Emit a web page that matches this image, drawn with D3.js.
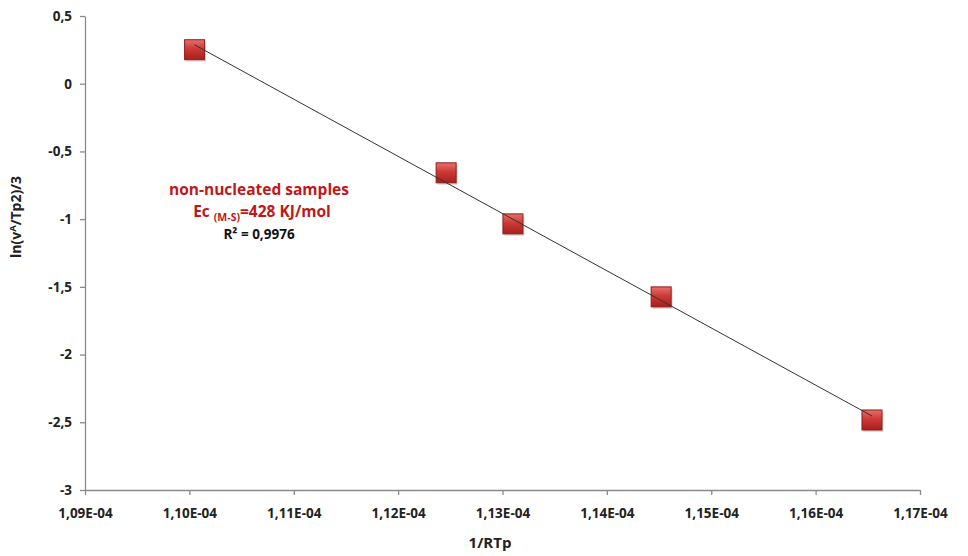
<!DOCTYPE html>
<html lang="en">
<head>
<meta charset="UTF-8">
<title>Kissinger plot</title>
<script src="https://cdn.jsdelivr.net/npm/d3@7"></script>
<style>
    body { margin: 0; padding: 0; background: #fff; }
    svg { display: block; font-family: "Open Sans", "Liberation Sans", sans-serif; }
</style>
</head>
<body>
<div id="chart"></div>
<script>
    // data
    const xValues = [1.1005e-4, 1.1246e-4, 1.1310e-4, 1.1452e-4, 1.1654e-4];
    const yValues = [0.251, -0.658, -1.035, -1.574, -2.483];
    const xTicks = [1.09e-4, 1.10e-4, 1.11e-4, 1.12e-4, 1.13e-4, 1.14e-4, 1.15e-4, 1.16e-4, 1.17e-4];
    const yTicks = [0.5, 0, -0.5, -1, -1.5, -2, -2.5, -3];

    const width = 968, height = 556;
    const margin = {top: 16, right: 48, bottom: 66, left: 85};

    const svg = d3.select("#chart").append("svg")
        .attr("width", width)
        .attr("height", height);

    const x = d3.scaleLinear().domain([1.09e-4, 1.17e-4]).range([margin.left, width - margin.right]);
    const y = d3.scaleLinear().domain([-3, 0.5]).range([height - margin.bottom, margin.top]);

    const comma = v => String(v).replace(".", ",");
    const sci = v => (v / 1e-4).toFixed(2).replace(".", ",") + "E-04";

    // marker gradient
    const defs = svg.append("defs");
    const grad = defs.append("linearGradient").attr("id", "mk").attr("x1", 0).attr("y1", 0).attr("x2", 0).attr("y2", 1);
    grad.append("stop").attr("offset", "0%").attr("stop-color", "#e8706b");
    grad.append("stop").attr("offset", "45%").attr("stop-color", "#cc3a36");
    grad.append("stop").attr("offset", "100%").attr("stop-color", "#a81f1d");

    // axes
    const xAxis = svg.append("g")
        .attr("transform", `translate(0,${y(-3)})`)
        .call(d3.axisBottom(x).tickValues(xTicks).tickFormat(sci).tickSize(5).tickSizeOuter(0));
    const yAxis = svg.append("g")
        .attr("transform", `translate(${x(1.09e-4)},0)`)
        .call(d3.axisLeft(y).tickValues(yTicks).tickFormat(comma).tickSize(5).tickSizeOuter(0));

    [xAxis, yAxis].forEach(g => {
        g.select(".domain").attr("stroke", "#8a8a8a").attr("stroke-width", 1.3);
        g.selectAll(".tick line").attr("stroke", "#8a8a8a").attr("stroke-width", 1.3);
        g.selectAll(".tick text")
            .attr("fill", "#222")
            .attr("font-size", 13.5)
            .attr("font-weight", "bold")
            .attr("font-family", "'Open Sans', sans-serif");
    });
    xAxis.selectAll(".tick text").attr("dy", "1.5em");
    yAxis.selectAll(".tick text").attr("x", -13);

    // markers
    const s = 20;
    const pts = svg.append("g").selectAll("g")
        .data(xValues.map((v, i) => [v, yValues[i]]))
        .join("g")
        .attr("transform", d => `translate(${x(d[0])},${y(d[1])})`);
    pts.append("rect")
        .attr("x", -s / 2 + 1.5).attr("y", -s / 2 + 2)
        .attr("width", s).attr("height", s)
        .attr("fill", "#000").attr("opacity", 0.15);
    pts.append("rect")
        .attr("x", -s / 2).attr("y", -s / 2)
        .attr("width", s).attr("height", s)
        .attr("fill", "url(#mk)")
        .attr("stroke", "#8e1c1a")
        .attr("stroke-width", 1);

    // linear trendline (least squares), drawn over the markers
    const mx = d3.mean(xValues), my = d3.mean(yValues);
    const slope = d3.sum(xValues, (v, i) => (v - mx) * (yValues[i] - my)) / d3.sum(xValues, v => (v - mx) ** 2);
    const icpt = my - slope * mx;
    const xExt = d3.extent(xValues);
    svg.append("line")
        .attr("x1", x(xExt[0])).attr("y1", y(slope * xExt[0] + icpt))
        .attr("x2", x(xExt[1])).attr("y2", y(slope * xExt[1] + icpt))
        .attr("stroke", "#333")
        .attr("stroke-width", 1);

    // annotation
    const ann = svg.append("g").attr("text-anchor", "middle").attr("font-weight", "bold")
        .attr("font-family", "'Open Sans', sans-serif");
    ann.append("text").attr("x", 259).attr("y", 195)
        .attr("fill", "#c0171b").attr("font-size", 15.5)
        .text("non-nucleated samples");
    const ec = ann.append("text").attr("x", 262).attr("y", 217)
        .attr("fill", "#c0171b").attr("font-size", 15.5);
    ec.append("tspan").text("Ec ");
    ec.append("tspan").attr("font-size", 10.5).attr("dy", 4).text("(M-S)");
    ec.append("tspan").attr("dy", -4).text("=428 KJ/mol");
    ann.append("text").attr("x", 259).attr("y", 239)
        .attr("fill", "#111").attr("font-size", 13.5)
        .text("R² = 0,9976");

    // axis titles
    svg.append("text")
        .attr("x", 490).attr("y", 548)
        .attr("text-anchor", "middle")
        .attr("font-weight", "bold").attr("font-size", 15).attr("fill", "#222")
        .text("1/RTp");
    const yl = svg.append("text")
        .attr("transform", "translate(21,217) rotate(-90)")
        .attr("text-anchor", "middle")
        .attr("font-weight", "bold").attr("font-size", 14).attr("fill", "#222");
    yl.append("tspan").text("ln(v");
    yl.append("tspan").attr("font-size", 9.5).attr("dy", -5).text("A");
    yl.append("tspan").attr("dy", 5).text("/Tp2)/3");
</script>
</body>
</html>
